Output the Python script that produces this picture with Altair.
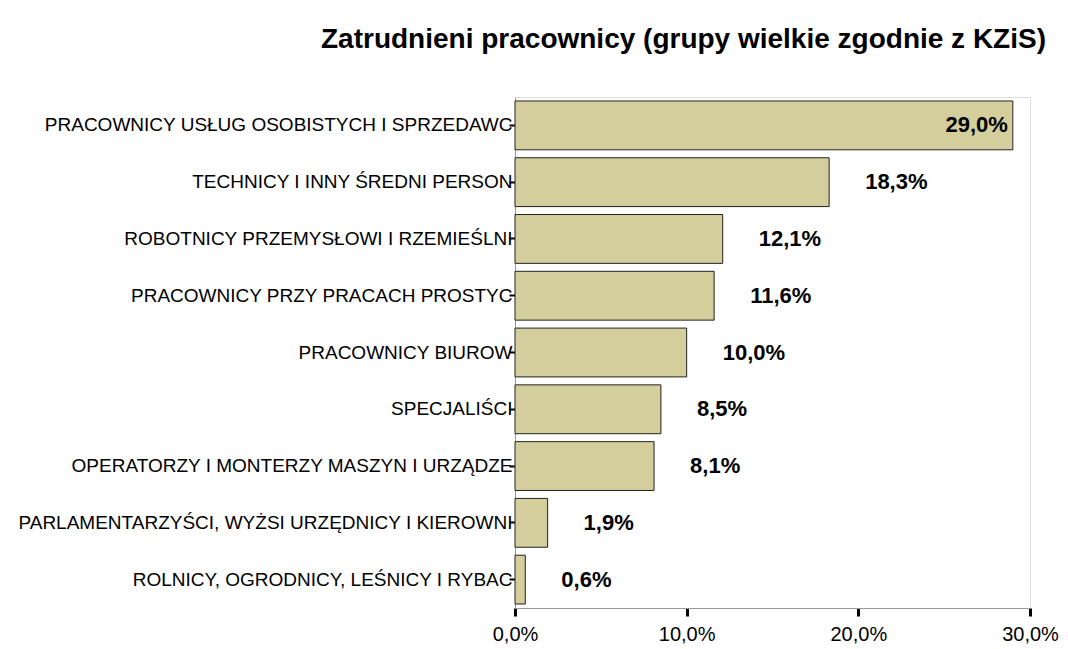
import altair as alt
import pandas as pd

categories = [
    "PRACOWNICY USŁUG OSOBISTYCH I SPRZEDAWC",
    "TECHNICY I INNY ŚREDNI PERSON",
    "ROBOTNICY PRZEMYSŁOWI I RZEMIEŚLNI",
    "PRACOWNICY PRZY PRACACH PROSTYC",
    "PRACOWNICY BIUROW",
    "SPECJALIŚCI",
    "OPERATORZY I MONTERZY MASZYN I URZĄDZE",
    "PARLAMENTARZYŚCI, WYŻSI URZĘDNICY I KIEROWNI",
    "ROLNICY, OGRODNICY, LEŚNICY I RYBAC",
]
values = [29.0, 18.3, 12.1, 11.6, 10.0, 8.5, 8.1, 1.9, 0.6]
x_ticks = [0, 10, 20, 30]

df = pd.DataFrame({"cat": categories, "v": values})

FONT = "Liberation Sans"

y_enc = alt.Y(
    "cat:N",
    sort=categories,
    title=None,
    scale=alt.Scale(paddingInner=0.14, paddingOuter=0.07),
    axis=alt.Axis(
        labelFont=FONT, labelFontSize=19, labelColor="black",
        labelPadding=-3, tickColor="black", tickSize=6, tickWidth=2,
        domainColor="#999999", labelLimit=0,
    ),
)
x_enc = alt.X(
    "v:Q",
    title=None,
    scale=alt.Scale(domain=[0, 30], nice=False),
    axis=alt.Axis(
        values=x_ticks, labelExpr="replace(format(datum.value, '.1f'), '.', ',') + '%'",
        labelFont=FONT, labelFontSize=20, labelColor="black", labelPadding=8,
        labelFlush=False,
        tickColor="black", tickSize=8, tickWidth=3, domainColor="#999999",
        grid=False,
    ),
)

base = alt.Chart(df).encode(y=y_enc)

bars = base.mark_bar(fill="#D3CE9B", stroke="#222222", strokeWidth=1).encode(x=x_enc)

lbl = base.transform_calculate(
    t="replace(format(datum.v, '.1f'), '.', ',') + '%'"
)
outside = lbl.transform_filter("datum.v < 25").mark_text(
    align="left", baseline="middle", dx=36, font=FONT, fontSize=22, fontWeight="bold", color="black"
).encode(x="v:Q", text="t:N")
inside = lbl.transform_filter("datum.v >= 25").mark_text(
    align="right", baseline="middle", dx=-5, font=FONT, fontSize=22, fontWeight="bold", color="black"
).encode(x="v:Q", text="t:N")

chart = (
    alt.layer(bars, outside, inside)
    .properties(
        width=515,
        height=511,
        title=alt.TitleParams(
            "Zatrudnieni pracownicy (grupy wielkie zgodnie z KZiS)",
            font=FONT, fontSize=28, fontWeight="bold", color="black",
            anchor="middle", frame="group", dx=-89, offset=43,
        ),
        padding={"left": 507, "top": 89, "right": 29, "bottom": 40},
        autosize=alt.AutoSizeParams(type="none"),
    )
    .configure_view(stroke="#999999", strokeWidth=1.5)
    .configure(background="white")
)

chart.save("out.html", embed_options={"renderer": "svg", "actions": False})
